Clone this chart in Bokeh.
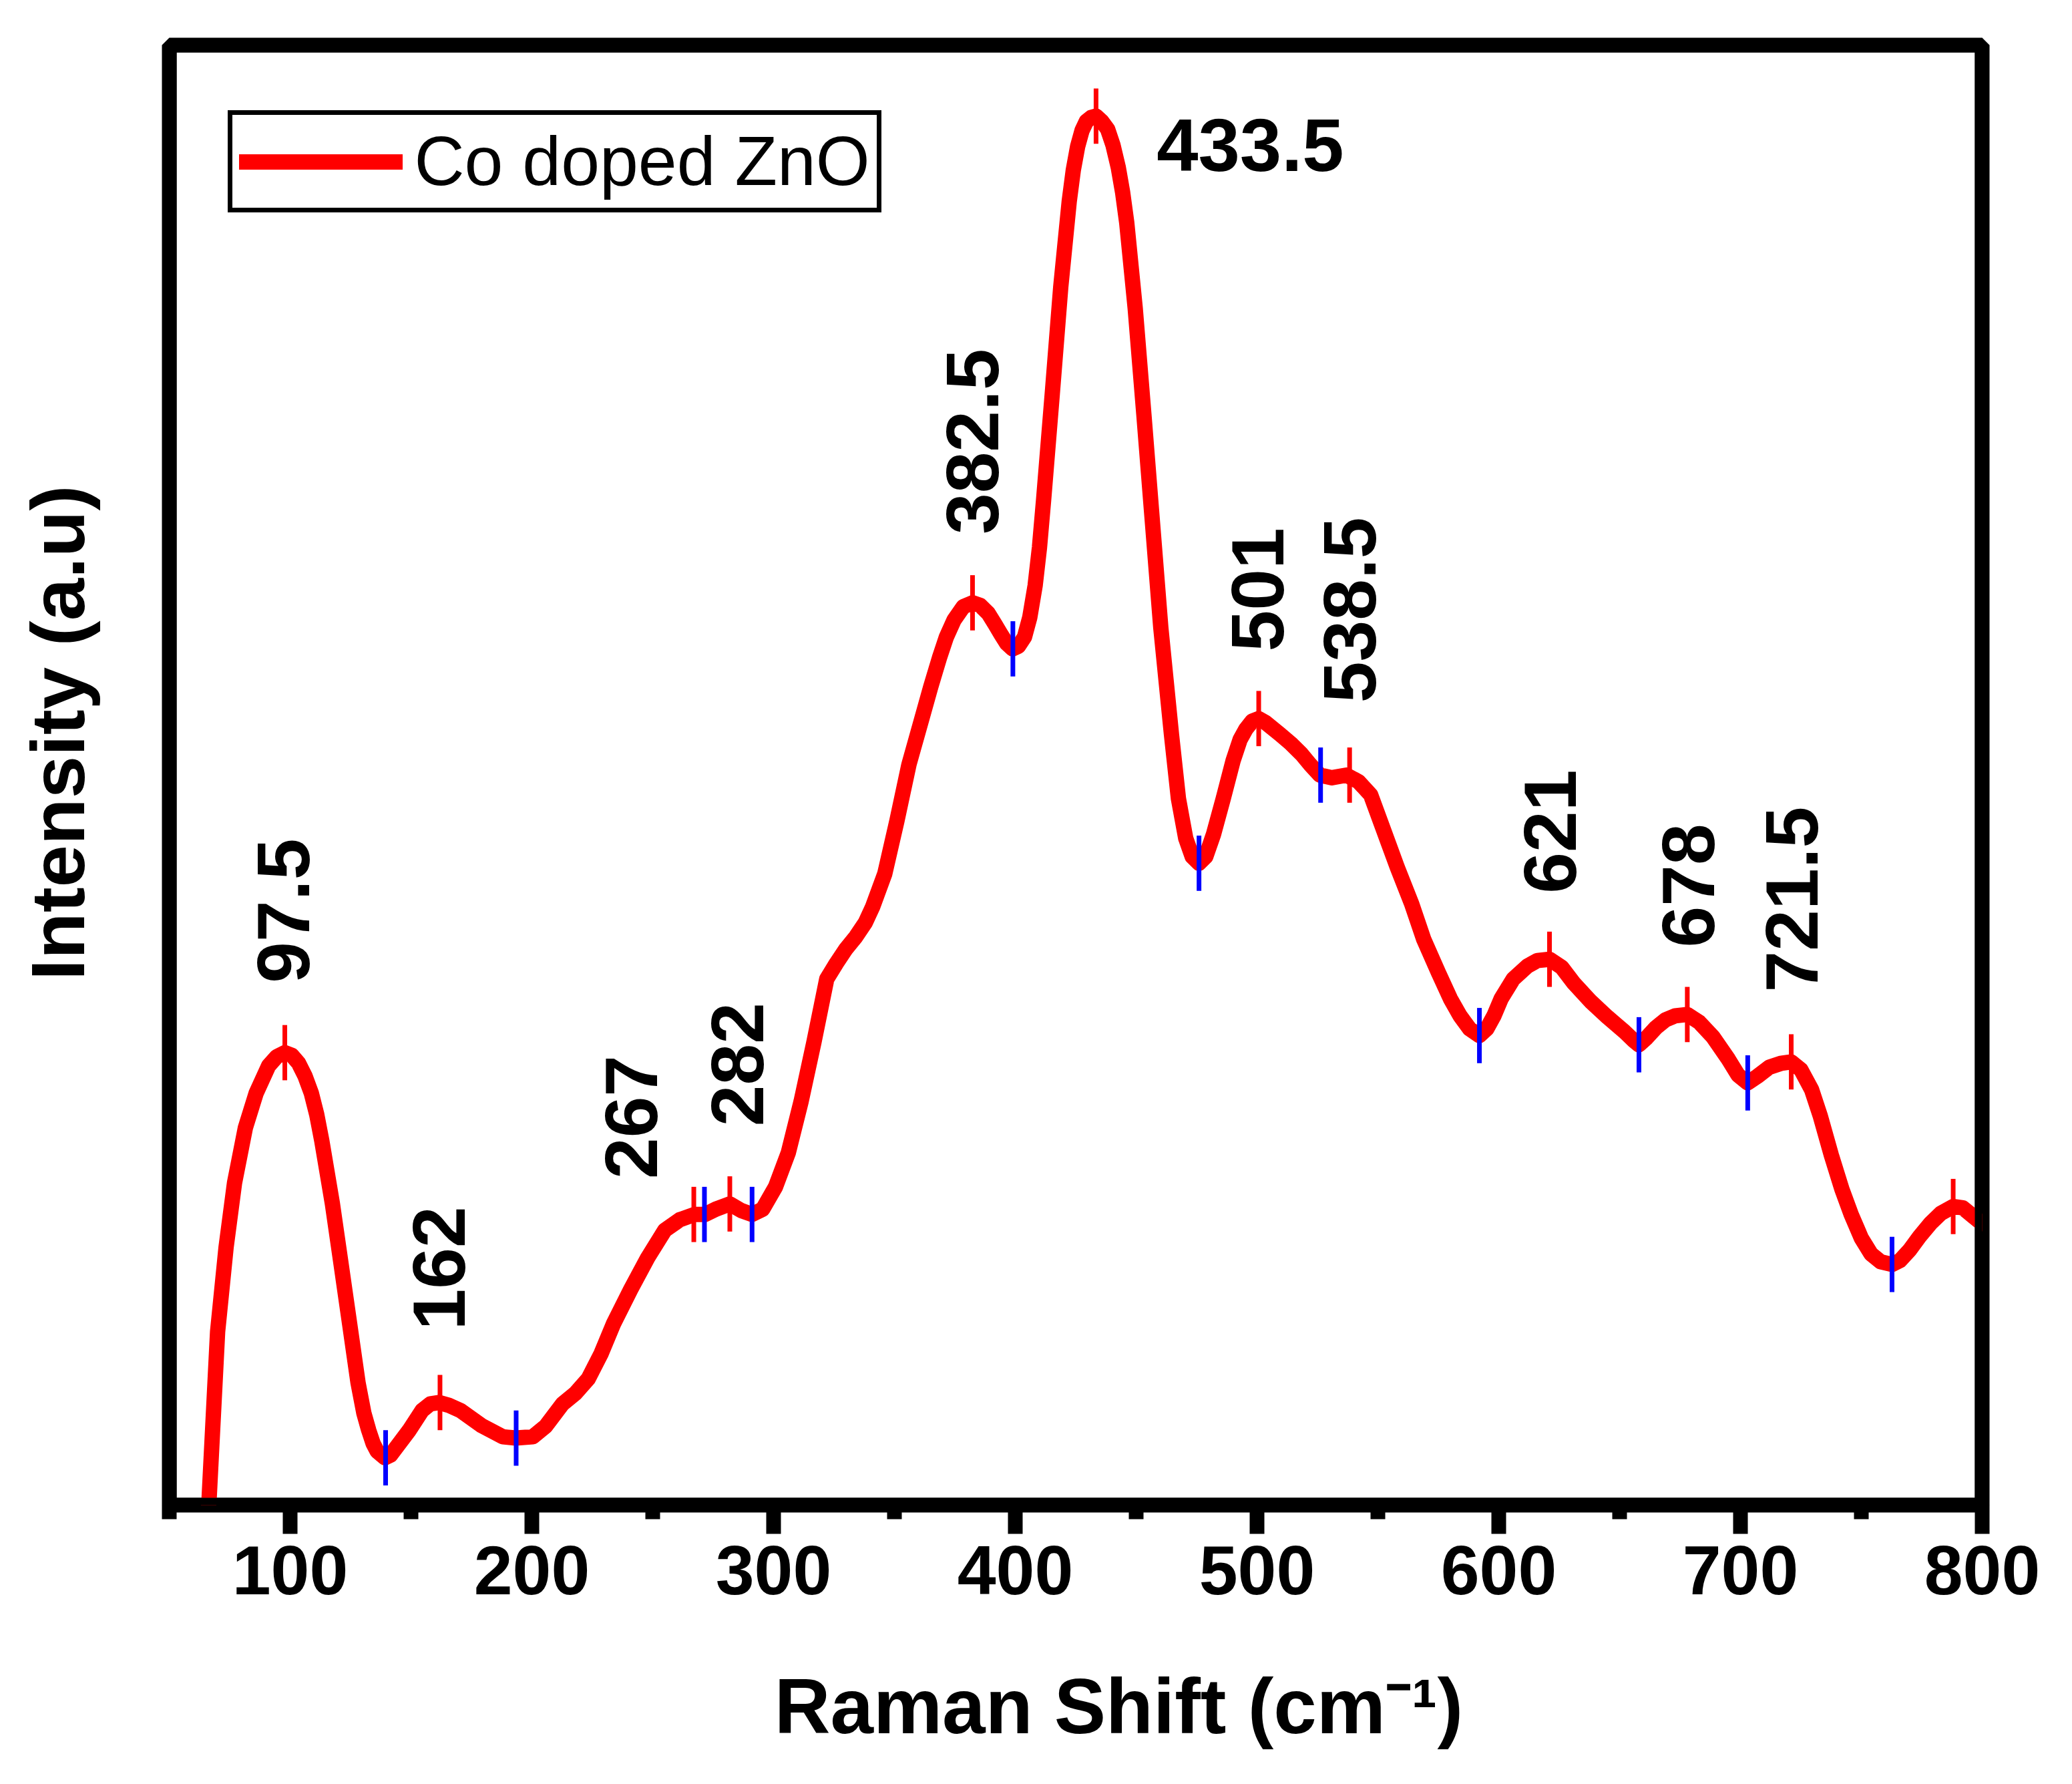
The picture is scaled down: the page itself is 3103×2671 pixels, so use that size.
from bokeh.plotting import figure
from bokeh.models import FixedTicker, Legend, LegendItem, Range1d
from bokeh.core.properties import value
from bokeh.embed import file_html
from bokeh.resources import INLINE

# ---------------- data ----------------
raman_shift = [64, 66.4, 70.0, 73.5, 77.0, 81.5, 85.9, 91.1, 94.5, 97.8, 100.7,
               103.5, 106.2, 108.8, 111, 113.1, 117.5, 121.1, 124.6, 128.1, 130.5,
               132.5, 134.3, 136.0, 139.2, 141.5, 144.0, 149.3, 154.6, 158, 161.6,
               165.5, 170.4, 179.2, 188.0, 193.3, 200.4, 205.7, 212.7, 218.0, 223.3,
               228.6, 233.8, 240.9, 247.9, 255.0, 261.2, 267.3, 271.7, 276.1, 281.9,
               286.6, 291.1, 295.5, 300.8, 306.1, 311.4, 316.7, 322.0,
               326, 330, 334, 338, 341, 346, 351, 356, 361.5, 365, 368.6, 371.5,
               374.7, 378.5, 382.3, 385.5, 388.8, 391.5, 394.1, 396.5, 398.9, 401.3,
               403.8, 406, 408.2, 410, 411.7, 415.3, 418.8, 422.3, 424, 425.8, 427.6,
               429.4, 431.4, 433.4, 435.8, 438.2, 440.4, 442.6, 444.4, 446.1, 449.6,
               453.2, 456.7, 460.2, 464.6, 467.5, 470.5, 473.2, 476, 478.8, 482, 486,
               490.1, 493, 495.4, 498, 500.7, 503.5, 509.5, 514, 518.4, 522, 526, 531,
               537, 542,
               547, 552, 558, 564, 569, 575, 580, 584, 588, 592, 595, 598, 601, 606,
               612, 616, 621, 626, 631, 638, 645, 652, 656, 658, 661, 665, 669, 673,
               678, 683, 688.6, 695, 699, 703, 707, 712, 717, 721, 725, 729.4, 733,
               737.6, 742, 745.8, 750, 754, 758, 762.7, 766, 770, 774, 778.5, 783,
               788, 792, 796, 800]
intensity = [-40, 2, 132, 196, 245, 287, 313, 334, 341, 344, 342,
             336, 326, 313, 297, 277, 229, 183, 138, 93, 70,
             57, 47, 41, 36, 38, 44, 57, 72, 77, 78,
             76, 72, 60.5, 52, 51, 52, 60, 77, 85, 96,
             115, 138, 164, 188, 209, 217, 221, 221, 225, 229,
             224, 221, 225, 242, 268, 307, 352, 400,
             412, 423, 432, 443, 455, 480, 520, 563, 599, 622, 644, 660,
             673, 683, 686, 684, 678, 670, 662, 655, 651, 653,
             660, 675, 699, 728, 764, 845, 926, 991, 1015, 1033, 1045,
             1052, 1055, 1056, 1052, 1046, 1034, 1017, 998, 975, 910,
             829, 748, 667, 586, 537, 507, 493, 488, 493, 510, 537,
             566, 582, 590, 596, 598, 595, 586, 579, 571, 563, 555, 553,
             555, 550,
             540, 515, 485, 457, 430, 405, 385, 372, 362, 357, 362, 372, 385, 400,
             410, 414, 415, 409, 397, 383, 371, 360, 353, 350, 355, 363, 369, 372,
             373, 367, 356, 339, 327, 321, 326, 333, 336, 337, 331, 316, 296,
             266, 240, 221, 203, 191, 185, 183, 186, 194, 204, 214, 222,
             227, 226, 220, 214]

peak_x = [97.8, 162, 267, 281.9, 382.3, 433.4, 500.7, 538.3, 621, 678, 721, 788]
peak_y = [344, 78, 221, 229, 686, 1056, 598, 555, 415, 373, 337, 227]
valley_x = [139.5, 193.5, 271.4, 291.1, 399, 476, 526.3, 592, 658, 703, 762.7]
valley_y = [36, 51, 221, 221, 651, 488, 555, 357, 350, 321, 183]

vlabel_text = ["97.5", "162", "267", "282", "382.5", "501", "538.5", "621", "678", "721.5"]
vlabel_x = [97.3, 161.6, 241.2, 285.2, 382.2, 500.4, 538.3, 621.3, 678.5, 721.3]
vlabel_y = [397, 133, 248, 288, 738, 649, 610, 465, 424, 390]
hlabel_text = ["433.5"]
hlabel_x = [458.5]
hlabel_y = [1034]

x_major = [100, 200, 300, 400, 500, 600, 700, 800]
x_minor = [50, 150, 250, 350, 450, 550, 650, 750]
legend_label = "Co doped ZnO"
x_title = "Raman Shift (cm\u207b\u00b9)"
y_title = "Intensity (a.u)"
NBSP = "\u00a0"

# ---------------- figure ----------------
FONT = "Liberation Sans"
W, H = 3087, 2662
X0, X1, Y0, Y1 = 50, 800, 0, 1110
p = figure(width=W, height=H, output_backend="svg", toolbar_location=None,
           x_range=Range1d(X0, X1), y_range=Range1d(Y0, Y1),
           min_border_left=253, min_border_right=119,
           min_border_top=67, min_border_bottom=409)
p.background_fill_color = "white"
p.border_fill_color = "white"
p.xgrid.visible = False
p.ygrid.visible = False
p.outline_line_color = "black"
p.outline_line_width = 22
p.outline_line_alpha = 1.0

# y axis: only the title
ya = p.yaxis[0]
ya.ticker = FixedTicker(ticks=[])
ya.axis_line_color = None
ya.major_tick_line_color = None
ya.minor_tick_line_color = None
ya.major_tick_out = 0
ya.major_tick_in = 0
ya.minor_tick_out = 0
ya.minor_tick_in = 0
ya.major_label_standoff = 0
ya.axis_label = NBSP * 4 + y_title
ya.axis_label_text_font = FONT
ya.axis_label_text_font_style = "bold"
ya.axis_label_text_font_size = "114px"
ya.axis_label_text_color = "black"
ya.axis_label_standoff = 104

# x axis
xa = p.xaxis[0]
xa.ticker = FixedTicker(ticks=x_major, minor_ticks=x_minor)
xa.axis_line_color = None
xa.major_tick_line_color = "black"
xa.major_tick_line_width = 22
xa.major_tick_in = 0
xa.major_tick_out = 43
xa.minor_tick_line_color = "black"
xa.minor_tick_line_width = 22
xa.minor_tick_in = 0
xa.minor_tick_out = 21
xa.major_label_text_font = FONT
xa.major_label_text_font_style = "bold"
xa.major_label_text_font_size = "104px"
xa.major_label_text_color = "black"
xa.major_label_standoff = 18
xa.axis_label = NBSP * 4 + x_title
xa.axis_label_text_font = FONT
xa.axis_label_text_font_style = "bold"
xa.axis_label_text_font_size = "116px"
xa.axis_label_text_color = "black"
xa.axis_label_standoff = 100

# curve
line = p.line(raman_shift, intensity, line_color="#ff0000", line_width=23,
              line_join="round", line_cap="round")

# peak / valley markers
h = 21
p.segment(x0=peak_x, y0=[v - h for v in peak_y], x1=peak_x, y1=[v + h for v in peak_y],
          line_color="#ff0000", line_width=7)
p.segment(x0=valley_x, y0=[v - h for v in valley_y], x1=valley_x, y1=[v + h for v in valley_y],
          line_color="#0000ff", line_width=7)

# inner half of the thick frame (outline draws the outer half)
p.quad(left=[X0], right=[X1], bottom=[Y0], top=[Y1], fill_color=None,
       line_color="black", line_width=22)

# peak labels
p.text(x=vlabel_x, y=vlabel_y, text=vlabel_text, angle=1.5707963267948966,
       text_font=value(FONT), text_font_style="bold", text_font_size="111px",
       text_color="black", text_align="left", text_baseline="middle")
p.text(x=hlabel_x, y=hlabel_y, text=hlabel_text,
       text_font=value(FONT), text_font_style="bold", text_font_size="112px",
       text_color="black", text_align="left", text_baseline="middle")

# legend
legend = Legend(items=[LegendItem(label=legend_label, renderers=[line])],
                location=(87.5, 1935), margin=0, padding=10, spacing=0,
                glyph_width=245, glyph_height=118, label_height=118,
                label_standoff=18,
                label_text_font=FONT, label_text_font_size="104px",
                label_text_color="black",
                border_line_color="black", border_line_width=7,
                border_line_alpha=1.0,
                background_fill_color="white", background_fill_alpha=1.0)
p.add_layout(legend, "center")

open("out.html", "w").write(file_html(p, INLINE))
